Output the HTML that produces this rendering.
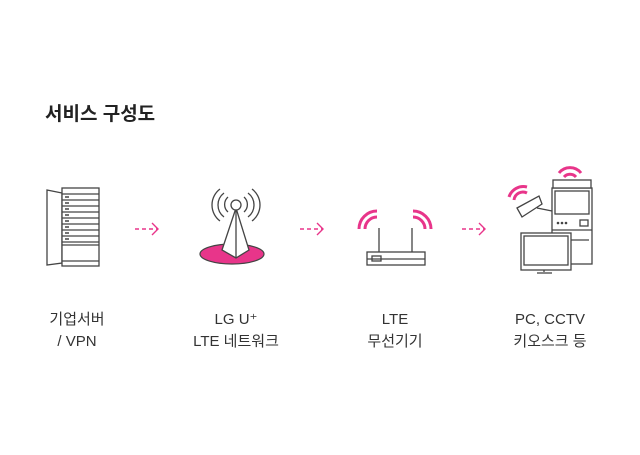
<!DOCTYPE html>
<html><head><meta charset="utf-8"><style>
body{margin:0;background:#fff;width:640px;height:450px;overflow:hidden;font-family:"Liberation Sans","Noto Sans CJK KR",sans-serif}
</style></head><body>
<svg width="640" height="450" viewBox="0 0 640 450" xmlns="http://www.w3.org/2000/svg" font-family="Liberation Sans, Noto Sans CJK KR, sans-serif">
<text x="45" y="120" font-size="19" font-weight="bold" fill="#222">서비스 구성도</text>
<g fill="none" stroke="#444" stroke-width="1.3">
<!-- server -->
<polygon points="47,190 62,193 62,263 47,265" fill="#fff"/>
<rect x="62" y="188" width="37" height="78" fill="#fff"/>
<g>
<line x1="62" y1="194" x2="99" y2="194"/><line x1="62" y1="200" x2="99" y2="200"/><line x1="62" y1="206" x2="99" y2="206"/><line x1="62" y1="212" x2="99" y2="212"/><line x1="62" y1="218" x2="99" y2="218"/><line x1="62" y1="224" x2="99" y2="224"/><line x1="62" y1="230" x2="99" y2="230"/><line x1="62" y1="236" x2="99" y2="236"/><line x1="62" y1="242" x2="99" y2="242"/><line x1="62" y1="245" x2="99" y2="245"/><line x1="62" y1="261" x2="99" y2="261"/>
</g>
<g stroke-width="1.5"><line x1="65" y1="197" x2="69" y2="197"/><line x1="65" y1="203" x2="69" y2="203"/><line x1="65" y1="209" x2="69" y2="209"/><line x1="65" y1="215" x2="69" y2="215"/><line x1="65" y1="221" x2="69" y2="221"/><line x1="65" y1="227" x2="69" y2="227"/><line x1="65" y1="233" x2="69" y2="233"/><line x1="65" y1="239" x2="69" y2="239"/></g>
</g>
<!-- arrows -->
<g stroke="#e8358a" stroke-width="1.4" fill="none">
<line x1="135" y1="229" x2="157" y2="229" stroke-dasharray="4,3"/><polyline points="152,223 158,229 152,235"/>
<line x1="300" y1="229" x2="322" y2="229" stroke-dasharray="4,3"/><polyline points="317,223 323,229 317,235"/>
<line x1="462" y1="229" x2="484" y2="229" stroke-dasharray="4,3"/><polyline points="479,223 485,229 479,235"/>
</g>
<!-- tower -->
<ellipse cx="232" cy="254" rx="32" ry="10" fill="#e8358a" stroke="#444" stroke-width="1.2"/>
<g fill="none" stroke="#444" stroke-width="1.3">
<polygon points="236,208 222,250 236,258 249,250" fill="#fff"/>
<line x1="236" y1="208" x2="236" y2="258"/>
<circle cx="236" cy="205" r="5" fill="#fff"/>
<path d="M228,197 A10,10 0 0 0 228,212"/><path d="M244,197 A10,10 0 0 1 244,212"/>
<path d="M224,193 A15,15 0 0 0 224,217"/><path d="M248,193 A15,15 0 0 1 248,217"/>
<path d="M220,189 A20,20 0 0 0 220,221"/><path d="M252,189 A20,20 0 0 1 252,221"/>
</g>
<!-- router -->
<g fill="none" stroke="#444" stroke-width="1.3">
<rect x="367" y="252" width="58" height="13" fill="#fff"/>
<line x1="367" y1="259" x2="425" y2="259"/>
<rect x="372" y="256" width="9" height="5"/>
<line x1="379" y1="228" x2="379" y2="252"/><line x1="412" y1="228" x2="412" y2="252"/>
</g>
<g fill="none" stroke="#e8358a" stroke-width="3">
<path d="M359,229 A18,18 0 0 1 377,211"/><path d="M365,229 A12,12 0 0 1 377,217"/>
<path d="M431,229 A18,18 0 0 0 413,211"/><path d="M425,229 A12,12 0 0 0 413,217"/>
<path d="M559,173 A14,14 0 0 1 581,173"/><path d="M564,177 A8,8 0 0 1 576,177"/>
<path d="M509,197 A15,15 0 0 1 527,187"/><path d="M514,200 A9,9 0 0 1 527,193"/>
</g>
<!-- kiosk -->
<g fill="none" stroke="#444" stroke-width="1.3">
<rect x="552" y="188" width="40" height="76" fill="#fff"/>
<rect x="553" y="180" width="38" height="8" fill="#fff"/>
<rect x="555" y="191" width="34" height="23"/>
<rect x="580" y="220" width="8" height="6"/>
<line x1="555" y1="240" x2="589" y2="240"/>
<line x1="552" y1="230" x2="592" y2="230"/>
<polygon points="517,208 539,196 542,204 522,217" fill="#fff"/>
<line x1="537" y1="208" x2="552" y2="211"/>
<rect x="521" y="233" width="50" height="37" fill="#fff"/>
<rect x="524" y="236" width="44" height="29"/>
<line x1="544" y1="270" x2="544" y2="272"/><line x1="537" y1="273" x2="552" y2="273"/>
</g>
<g fill="#444"><circle cx="558" cy="223" r="1.3"/><circle cx="562" cy="223" r="1.3"/><circle cx="566" cy="223" r="1.3"/></g>
<g font-size="15" fill="#333" text-anchor="middle">
<text x="77" y="324">기업서버</text><text x="77" y="346">/ VPN</text>
<text x="236" y="324">LG U⁺</text><text x="236" y="346">LTE 네트워크</text>
<text x="395" y="324">LTE</text><text x="395" y="346">무선기기</text>
<text x="550" y="324">PC, CCTV</text><text x="550" y="346">키오스크 등</text>
</g>
</svg>
</body></html>
